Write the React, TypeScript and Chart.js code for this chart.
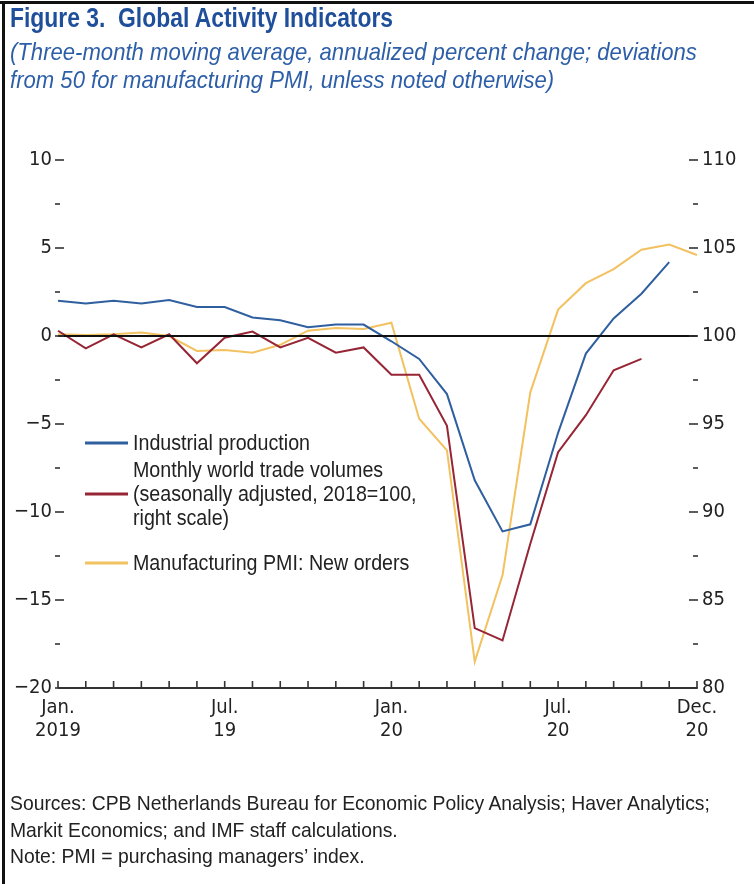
import React, { useEffect, useLayoutEffect, useRef } from "react";
import { Chart, registerables } from "chart.js";

Chart.register(...registerables);

const FONT =
  "'Liberation Sans Narrow', 'Arial Narrow', 'DejaVu Sans Condensed', 'Liberation Sans', sans-serif";
const HTML_FONT = "'Liberation Sans', Arial, sans-serif";

// ---- data ----
const months = [
  "Jan 2019", "Feb 2019", "Mar 2019", "Apr 2019", "May 2019", "Jun 2019",
  "Jul 2019", "Aug 2019", "Sep 2019", "Oct 2019", "Nov 2019", "Dec 2019",
  "Jan 2020", "Feb 2020", "Mar 2020", "Apr 2020", "May 2020", "Jun 2020",
  "Jul 2020", "Aug 2020", "Sep 2020", "Oct 2020", "Nov 2020", "Dec 2020",
];

// left scale
const industrialProduction = [
  2.0, 1.85, 2.0, 1.85, 2.05, 1.65, 1.65, 1.05, 0.9, 0.5, 0.65, 0.65,
  -0.3, -1.3, -3.3, -8.2, -11.1, -10.7, -5.5, -1.0, 1.0, 2.4, 4.2, null,
];

// right scale (2018 = 100)
const tradeVolumes = [
  100.3, 99.3, 100.1, 99.35, 100.1, 98.45, 99.9, 100.25, 99.35, 99.9, 99.05, 99.35,
  97.8, 97.8, 94.9, 83.4, 82.7, 88.2, 93.4, 95.5, 98.05, 98.7, null, null,
];

// left scale
const pmiNewOrders = [
  0.1, 0.05, 0.1, 0.2, 0.0, -0.85, -0.8, -0.95, -0.5, 0.3, 0.45, 0.4,
  0.75, -4.7, -6.5, -18.5, -13.6, -3.2, 1.5, 3.0, 3.8, 4.9, 5.2, 4.6,
];

const xLabelIndex = [0, 6, 12, 18, 23];
const xLabelLines = [
  ["Jan.", "2019"],
  ["Jul.", "19"],
  ["Jan.", "20"],
  ["Jul.", "20"],
  ["Dec.", "20"],
];

const leftMin = -20;
const leftMax = 10;
const rightMin = 80;
const rightMax = 110;
const tickStep = 2.5;
const labelStep = 5;

const seriesNames = [
  ["Industrial production"],
  ["Monthly world trade volumes", "(seasonally adjusted, 2018=100,", "right scale)"],
  ["Manufacturing PMI: New orders"],
];

const titleText = "Figure 3.  Global Activity Indicators";
const subtitleLines = [
  "(Three-month moving average, annualized percent change; deviations",
  "from 50 for manufacturing PMI, unless noted otherwise)",
];
const footerLines = [
  "Sources: CPB Netherlands Bureau for Economic Policy Analysis; Haver Analytics;",
  "Markit Economics; and IMF staff calculations.",
  "Note: PMI = purchasing managers\u2019 index.",
];

const COLORS = {
  blue: "#2f5f9f",
  red: "#962535",
  yellow: "#f2c160",
};

const fmt = (v: number) => (v < 0 ? "\u2212" + Math.abs(v) : String(v));

const decorPlugin = {
  id: "decor",
  afterDatasetsDraw(chart: any) {
    const { ctx, chartArea, scales } = chart;
    const { left, right, top, bottom } = chartArea;
    const y = scales.y;
    const y1 = scales.y1;
    const x = scales.x;
    ctx.save();
    // zero line
    const y0 = y.getPixelForValue(0);
    ctx.strokeStyle = "#111";
    ctx.lineWidth = 1.8;
    ctx.beginPath();
    ctx.moveTo(left, y0);
    ctx.lineTo(right, y0);
    ctx.stroke();

    // y tick marks
    ctx.strokeStyle = "#333";
    ctx.lineWidth = 1.6;
    for (let v = leftMin; v <= leftMax + 1e-9; v += tickStep) {
      const major = Math.abs(v % labelStep) < 1e-9;
      const py = y.getPixelForValue(v);
      const len = major ? 9 : 5;
      ctx.beginPath();
      ctx.moveTo(left - 3, py);
      ctx.lineTo(left - 3 + len, py);
      ctx.stroke();
    }
    for (let v = rightMin; v <= rightMax + 1e-9; v += tickStep) {
      const major = Math.abs(v % labelStep) < 1e-9;
      const py = y1.getPixelForValue(v);
      const len = major ? 9 : 5;
      ctx.beginPath();
      ctx.moveTo(right + 1, py);
      ctx.lineTo(right + 1 - len, py);
      ctx.stroke();
    }

    // x axis line + upward ticks
    ctx.strokeStyle = "#333";
    ctx.lineWidth = 2;
    ctx.beginPath();
    ctx.moveTo(left, bottom);
    ctx.lineTo(right, bottom);
    ctx.stroke();
    ctx.lineWidth = 1.6;
    for (let i = 0; i < months.length; i++) {
      const px = x.getPixelForValue(i);
      ctx.beginPath();
      ctx.moveTo(px, bottom);
      ctx.lineTo(px, bottom - 7);
      ctx.stroke();
    }

    // legend
    const lx0 = left + 27;
    const lx1 = left + 70;
    const tx = left + 75;
    const lh = 24;
    const rows = [
      { color: COLORS.blue, y: top + 283, lines: seriesNames[0], lineAt: 0 },
      { color: COLORS.red, y: top + 310, lines: seriesNames[1], lineAt: 1 },
      { color: COLORS.yellow, y: top + 403, lines: seriesNames[2], lineAt: 0 },
    ];
    ctx.font = `22px ${HTML_FONT}`;
    const sx = 177 / ctx.measureText(seriesNames[0][0]).width;
    ctx.fillStyle = "#222";
    ctx.textBaseline = "middle";
    ctx.textAlign = "left";
    for (const r of rows) {
      ctx.strokeStyle = r.color;
      ctx.lineWidth = 3;
      const ly = r.y + r.lineAt * lh;
      ctx.beginPath();
      ctx.moveTo(lx0, ly);
      ctx.lineTo(lx1, ly);
      ctx.stroke();
      r.lines.forEach((t, k) => {
        ctx.save();
        ctx.translate(tx, r.y + k * lh + 1);
        ctx.scale(sx, 1);
        ctx.fillText(t, 0, 0);
        ctx.restore();
      });
    }
    ctx.restore();
  },
};

// Text block horizontally fitted so that its widest line spans `width` px
function FitLines(props: {
  lines: string[];
  width: number;
  left: number;
  top: number;
  style: React.CSSProperties;
}) {
  const ref = useRef<HTMLDivElement | null>(null);
  useLayoutEffect(() => {
    const fit = () => {
      const el = ref.current;
      if (!el) return;
      el.style.transform = "none";
      const spans = Array.from(el.querySelectorAll("span")) as HTMLElement[];
      const w = Math.max(...spans.map((s) => s.offsetWidth));
      if (w > 0) el.style.transform = `scaleX(${props.width / w})`;
    };
    fit();
    if ((document as any).fonts?.ready) (document as any).fonts.ready.then(fit);
  }, []);
  return (
    <div
      ref={ref}
      style={{
        position: "absolute",
        left: props.left,
        top: props.top,
        transformOrigin: "left top",
        whiteSpace: "pre",
        fontFamily: HTML_FONT,
        ...props.style,
      }}
    >
      {props.lines.map((l, i) => (
        <div key={i}>
          <span style={{ display: "inline-block" }}>{l}</span>
        </div>
      ))}
    </div>
  );
}

export default function App() {
  const ref = useRef<HTMLCanvasElement | null>(null);

  useEffect(() => {
    if (!ref.current) return;
    const chart = new Chart(ref.current, {
      type: "line",
      data: {
        labels: months,
        datasets: [
          {
            label: seriesNames[0].join(" "),
            data: industrialProduction,
            yAxisID: "y",
            borderColor: COLORS.blue,
            borderWidth: 2,
            pointRadius: 0,
            tension: 0,
            order: 1,
          },
          {
            label: seriesNames[1].join(" "),
            data: tradeVolumes,
            yAxisID: "y1",
            borderColor: COLORS.red,
            borderWidth: 2,
            pointRadius: 0,
            tension: 0,
            order: 2,
          },
          {
            label: seriesNames[2].join(" "),
            data: pmiNewOrders,
            yAxisID: "y",
            borderColor: COLORS.yellow,
            borderWidth: 2,
            pointRadius: 0,
            tension: 0,
            order: 3,
          },
        ],
      },
      options: {
        animation: false,
        responsive: false,
        events: [],
        layout: { padding: { top: 160, left: 0, right: 0, bottom: 0 } },
        plugins: {
          legend: { display: false },
          tooltip: { enabled: false },
        },
        scales: {
          x: {
            type: "category",
            offset: false,
            grid: {
              display: true,
              drawOnChartArea: false,
              drawTicks: true,
              tickLength: 2,
              tickColor: "rgba(0,0,0,0)",
            },
            border: { display: false },
            ticks: {
              autoSkip: false,
              maxRotation: 0,
              minRotation: 0,
              padding: 6,
              color: "#222",
              font: { family: FONT, size: 20, lineHeight: 1.15 },
              callback: (_v: any, i: number) => {
                const k = xLabelIndex.indexOf(i);
                return k >= 0 ? xLabelLines[k] : "";
              },
            },
            afterFit: (s: any) => {
              s.height = 196;
            },
          },
          y: {
            position: "left",
            min: leftMin,
            max: leftMax,
            grid: {
              display: true,
              drawOnChartArea: false,
              drawTicks: true,
              tickLength: 4,
              tickColor: "rgba(0,0,0,0)",
            },
            border: { display: false },
            ticks: {
              stepSize: tickStep,
              padding: 2,
              color: "#222",
              font: { family: FONT, size: 20 },
              callback: (v: any) => (Math.abs(v % labelStep) < 1e-9 ? fmt(v) : ""),
            },
            afterFit: (s: any) => {
              s.width = 58;
            },
          },
          y1: {
            position: "right",
            min: rightMin,
            max: rightMax,
            grid: {
              display: true,
              drawOnChartArea: false,
              drawTicks: true,
              tickLength: 3,
              tickColor: "rgba(0,0,0,0)",
            },
            border: { display: false },
            ticks: {
              stepSize: tickStep,
              padding: 2,
              color: "#222",
              font: { family: FONT, size: 20 },
              callback: (v: any) => (Math.abs(v % labelStep) < 1e-9 ? fmt(v) : ""),
            },
            afterFit: (s: any) => {
              s.width = 57;
            },
          },
        },
      },
      plugins: [decorPlugin],
    } as any);
    return () => chart.destroy();
  }, []);

  return (
    <div
      style={{
        position: "absolute",
        left: 0,
        top: 0,
        width: 754,
        height: 884,
        background: "#fff",
        overflow: "hidden",
      }}
    >
      <canvas
        ref={ref}
        width={754}
        height={884}
        style={{ position: "absolute", left: 0, top: 0, width: 754, height: 884 }}
      />
      <div
        style={{ position: "absolute", left: 0, top: 1, width: 754, height: 3, background: "#111" }}
      />
      <div
        style={{ position: "absolute", left: 2, top: 1, width: 3, height: 883, background: "#111" }}
      />
      <FitLines
        lines={[titleText]}
        width={383}
        left={10}
        top={4}
        style={{ fontSize: 27, lineHeight: "28px", fontWeight: "bold", color: "#1f4f9b" }}
      />
      <FitLines
        lines={subtitleLines}
        width={687}
        left={10}
        top={38}
        style={{ fontSize: 24, lineHeight: "28px", fontStyle: "italic", color: "#2d5ea8" }}
      />
      <FitLines
        lines={footerLines}
        width={700}
        left={10}
        top={790}
        style={{ fontSize: 21, lineHeight: "26.5px", color: "#222" }}
      />
    </div>
  );
}
